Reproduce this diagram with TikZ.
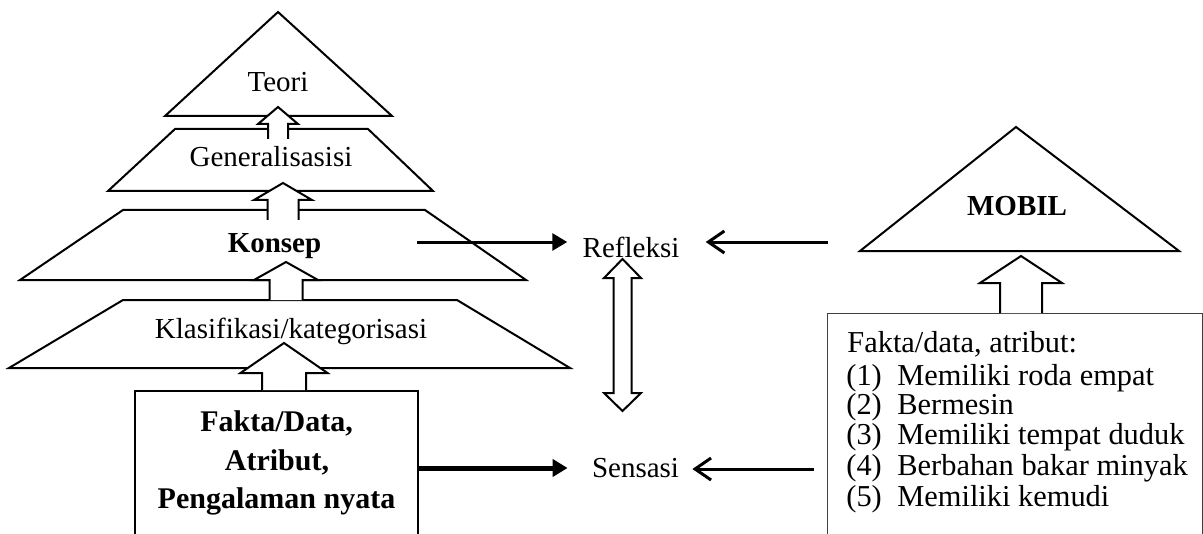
\documentclass[tikz,border=0pt]{standalone}
\usepackage{fontspec}
\setmainfont{Liberation Serif}
\usetikzlibrary{arrows.meta}
\tikzset{
 shapeline/.style={line width=1pt, line join=miter},
 lbl/.style={inner sep=0pt, anchor=base, font=\fontsize{14.5}{17}\selectfont},
 blbl/.style={lbl, font=\fontsize{14.5}{17}\selectfont\bfseries},
 fbl/.style={lbl, font=\fontsize{15}{18}\selectfont\bfseries},
 rbl/.style={inner sep=0pt, anchor=base west, font=\fontsize{15.2}{18}\selectfont},
 thinarrow/.style={line width=1.5pt, -{Triangle[length=7.5pt,width=8.5pt]}},
 thickarrow/.style={line width=2.5pt, -{Triangle[length=7.5pt,width=8.5pt]}},
 openarrow/.style={line width=1.5pt, -{Straight Barb[length=8pt,width=11pt]}},
}
% #1 centre x, #2 tip y, #3 head base y, #4 head half width, #5 shaft half width, #6 shaft end y
\newcommand\hollowup[6]{%
 \fill[white] (#1,#2) -- (#1+#4,#3) -- (#1+#5,#3) -- (#1+#5,#6) -- (#1-#5,#6) -- (#1-#5,#3) -- (#1-#4,#3) -- cycle;
 \draw[shapeline] (#1+#5,#6) -- (#1+#5,#3) -- (#1+#4,#3) -- (#1,#2) -- (#1-#4,#3) -- (#1-#5,#3) -- (#1-#5,#6);
}
% #1 centre x, #2 top tip, #3 top head base, #4 bottom head base, #5 bottom tip, #6 head half width, #7 shaft half width
\newcommand\hollowdouble[7]{%
 \filldraw[shapeline, fill=white] (#1,#2) -- (#1+#6,#3) -- (#1+#7,#3) -- (#1+#7,#4) -- (#1+#6,#4) -- (#1,#5)
   -- (#1-#6,#4) -- (#1-#7,#4) -- (#1-#7,#3) -- (#1-#6,#3) -- cycle;
}
\begin{document}
\begin{tikzpicture}[x=0.5pt,y=-0.5pt]
\useasboundingbox (0,0) rectangle (1203,534);
\clip (0,0) rectangle (1203,534);
% left pyramid
\draw[shapeline] (278,12) -- (392,116) -- (165,116) -- cycle;
\draw[shapeline] (175,129) -- (368,129) -- (433,191) -- (108,191) -- cycle;
\draw[shapeline] (123,210) -- (425,210) -- (526,280) -- (20,280) -- cycle;
\draw[shapeline] (123,300) -- (457,300) -- (570,368) -- (9,368) -- cycle;
\node[draw, line width=1pt, anchor=north west, inner sep=0pt, minimum width=141.5pt, minimum height=105pt] (faktabox) at (134,390) {};
% right side
\draw[shapeline] (1016,127) -- (1179,251) -- (860,251) -- cycle;
\node[draw=black!75, line width=0.6pt, anchor=north west, inner sep=0pt, minimum width=187.25pt, minimum height=120pt] (attrbox) at (827,313) {};
% hollow arrows
\hollowup{278}{107}{124}{20}{10}{139}
\hollowup{283}{183}{200}{29}{15.5}{220}
\hollowup{286}{262}{280}{32}{16.5}{300}
\hollowup{284}{343}{373}{43.5}{22}{390}
\hollowup{1021}{256}{283}{41}{21}{313}
\hollowdouble{622.5}{259}{278}{393}{411}{18.5}{9}
% labels
\node[lbl] (teori) at (278,92) {Teori};
\node[lbl] (gen) at (271,167) {Generalisasisi};
\node[blbl] (konsep) at (274.5,252) {Konsep};
\node[lbl] (klas) at (291,338) {Klasifikasi/kategorisasi};
\node[fbl] (f1) at (276.5,431) {Fakta/Data,};
\node[fbl] (f2) at (277,470) {Atribut,};
\node[fbl] (f3) at (276.5,508) {Pengalaman nyata};
\node[lbl] (refl) at (631,257) {Refleksi};
\node[lbl] (sens) at (635.5,477) {Sensasi};
\node[blbl] (mobil) at (1017,216) {MOBIL};
\node[rbl] (hd) at (847,352) {Fakta/data, atribut:};
\node[rbl] (n1) at (846,385) {(1)};
\node[rbl] (t1) at (897,385) {Memiliki roda empat};
\node[rbl] (n2) at (846,414) {(2)};
\node[rbl] (t2) at (897,414) {Bermesin};
\node[rbl] (n3) at (846,444) {(3)};
\node[rbl] (t3) at (897,444) {Memiliki tempat duduk};
\node[rbl] (n4) at (846,475) {(4)};
\node[rbl] (t4) at (897,475) {Berbahan bakar minyak};
\node[rbl] (n5) at (846,506) {(5)};
\node[rbl] (t5) at (897,506) {Memiliki kemudi};
% connectors
\coordinate (kstart) at (417,242);
\coordinate (rstart) at (828,242);
\coordinate (fstart) at (417,468);
\coordinate (sstart) at (814,469);
\draw[thinarrow, shorten >=7.5pt] (kstart) -- (kstart -| refl.west);
\draw[openarrow, shorten >=13pt] (rstart) -- (rstart -| refl.east);
\draw[thickarrow, shorten >=12pt] (fstart) -- (fstart -| sens.west);
\draw[openarrow, shorten >=6.5pt] (sstart) -- (sstart -| sens.east);
\end{tikzpicture}
\end{document}
